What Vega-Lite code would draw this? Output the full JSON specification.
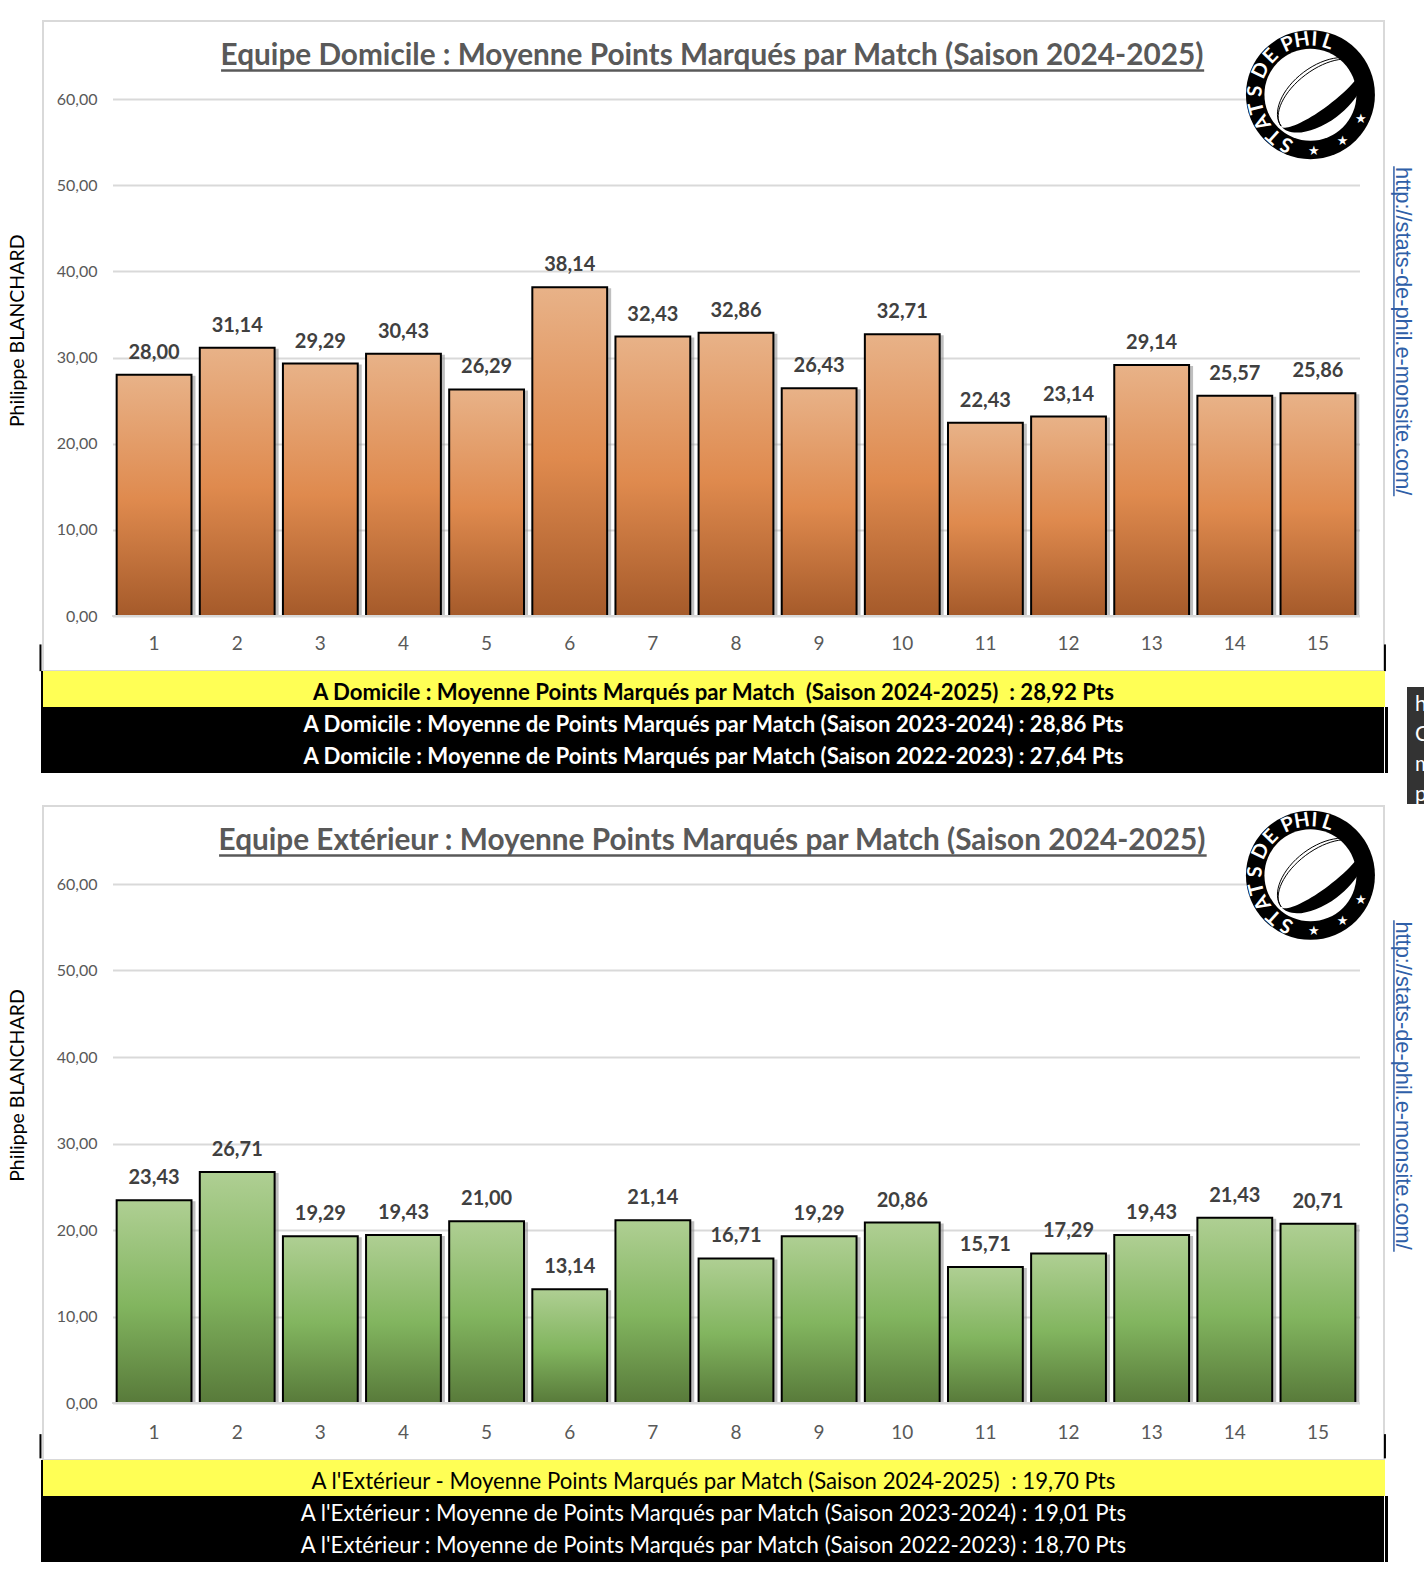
{"$schema":"https://vega.github.io/schema/vega-lite/v6.json","background":"#ffffff","padding":{"left":7,"top":20,"right":0,"bottom":0},"config":{"locale":{"number":{"decimal":",","thousands":" ","grouping":[3],"currency":["","€"]}},"font":"Lato","concat":{"spacing":0}},"datasets":{"domicile":[{"journee":1,"points":28.00},{"journee":2,"points":31.14},{"journee":3,"points":29.29},{"journee":4,"points":30.43},{"journee":5,"points":26.29},{"journee":6,"points":38.14},{"journee":7,"points":32.43},{"journee":8,"points":32.86},{"journee":9,"points":26.43},{"journee":10,"points":32.71},{"journee":11,"points":22.43},{"journee":12,"points":23.14},{"journee":13,"points":29.14},{"journee":14,"points":25.57},{"journee":15,"points":25.86}],"exterieur":[{"journee":1,"points":23.43},{"journee":2,"points":26.71},{"journee":3,"points":19.29},{"journee":4,"points":19.43},{"journee":5,"points":21.00},{"journee":6,"points":13.14},{"journee":7,"points":21.14},{"journee":8,"points":16.71},{"journee":9,"points":19.29},{"journee":10,"points":20.86},{"journee":11,"points":15.71},{"journee":12,"points":17.29},{"journee":13,"points":19.43},{"journee":14,"points":21.43},{"journee":15,"points":20.71}],"une":[{"n":1}],"lettres":[{"t":"S","a":205.6},{"t":"T","a":221.5},{"t":"A","a":240},{"t":"T","a":256},{"t":"S","a":273.6},{"t":"D","a":296},{"t":"E","a":314},{"t":"P","a":336},{"t":"H","a":351},{"t":"I","a":4},{"t":"L","a":18}],"etoiles":[{"t":"★","a":176.5},{"t":"★","a":145},{"t":"★","a":116}]},"spacing":0,"vconcat":[{"spacing":0,"bounds":"flush","vconcat":[{"width":1341,"height":650,"view":{"stroke":"#d9d9d9","strokeWidth":2,"fill":"#ffffff"},"layer":[{"data":{"name":"domicile"},"mark":{"type":"bar","fill":"#8a8a8a","opacity":0.55,"xOffset":4,"yOffset":1},"encoding":{"x":{"field":"journee","type":"ordinal","scale":{"domain":[1,2,3,4,5,6,7,8,9,10,11,12,13,14,15],"range":[69.5,1316.5],"paddingInner":0.1,"paddingOuter":0.05},"axis":{"title":null,"labelAngle":0,"domain":false,"ticks":false,"grid":false,"offset":-28,"labelPadding":0,"labelBaseline":"middle","labelFontSize":19,"labelColor":"#595959","labelFont":"Lato"}},"y":{"field":"points","type":"quantitative","scale":{"domain":[0,60],"range":[595,78],"nice":false,"zero":false},"axis":{"title":null,"values":[0,10,20,30,40,50,60],"format":".2f","domain":false,"ticks":false,"grid":true,"gridColor":"#d9d9d9","gridWidth":2,"offset":-54,"labelPadding":0,"labelFontSize":16,"labelColor":"#595959","labelFont":"Lato"}}}},{"data":{"name":"domicile"},"mark":{"type":"bar","stroke":"#000000","strokeWidth":2,"fill":{"x1":0,"y1":0,"x2":0,"y2":1,"gradient":"linear","stops":[{"offset":0,"color":"#E8B288"},{"offset":0.52,"color":"#DF8A4E"},{"offset":1,"color":"#A55A2A"}]}},"encoding":{"x":{"field":"journee","type":"ordinal"},"y":{"field":"points","type":"quantitative"}}},{"data":{"name":"une"},"mark":{"type":"rule","color":"#d9d9d9","strokeWidth":2,"xOffset":-42,"x2Offset":42},"encoding":{"x":{"datum":1,"type":"ordinal"},"x2":{"datum":15},"y":{"datum":0,"type":"quantitative"}}},{"data":{"name":"domicile"},"mark":{"type":"text","baseline":"alphabetic","yOffset":-16,"fontSize":20,"fontWeight":"bold","color":"#404040"},"encoding":{"x":{"field":"journee","type":"ordinal"},"y":{"field":"points","type":"quantitative"},"text":{"field":"points","type":"quantitative","format":".2f"}}},{"data":{"name":"une"},"mark":{"type":"text","text":"Equipe Domicile : Moyenne Points Marqués par Match (Saison 2024-2025)","baseline":"alphabetic","align":"center","fontSize":29.75,"fontWeight":"bold","color":"#595959","xOffset":-24},"encoding":{"x":{"datum":8,"type":"ordinal"},"y":{"datum":63.95,"type":"quantitative"}}},{"data":{"name":"une"},"mark":{"type":"rule","color":"#595959","strokeWidth":2.5,"xOffset":67,"x2Offset":52.5},"encoding":{"x":{"datum":1,"type":"ordinal"},"x2":{"datum":13},"y":{"datum":63.3,"type":"quantitative"}}},{"data":{"name":"une"},"mark":{"type":"text","text":"Philippe BLANCHARD","angle":270,"baseline":"alphabetic","align":"center","fontSize":19.5,"color":"#000000","xOffset":-129.6},"encoding":{"x":{"datum":1,"type":"ordinal"},"y":{"datum":33.1,"type":"quantitative"}}},{"data":{"name":"une"},"mark":{"type":"text","text":"http://stats-de-phil.e-monsite.com/","angle":90,"baseline":"alphabetic","align":"center","font":"Liberation Sans","fontSize":21.8,"color":"#2F5FA8","xOffset":78},"encoding":{"x":{"datum":15,"type":"ordinal"},"y":{"datum":33.05,"type":"quantitative"}}},{"data":{"name":"une"},"mark":{"type":"rule","color":"#2F5FA8","strokeWidth":1.5,"xOffset":76},"encoding":{"x":{"datum":15,"type":"ordinal"},"y":{"datum":52.2,"type":"quantitative"},"y2":{"datum":13.9}}},{"data":{"name":"une"},"mark":{"type":"rule","color":"#000000","strokeWidth":2,"xOffset":-113.6},"encoding":{"x":{"datum":1,"type":"ordinal"},"y":{"datum":-3.3,"type":"quantitative"},"y2":{"datum":-6.4}}},{"data":{"name":"une"},"mark":{"type":"rule","color":"#000000","strokeWidth":2,"xOffset":67},"encoding":{"x":{"datum":15,"type":"ordinal"},"y":{"datum":-3.3,"type":"quantitative"},"y2":{"datum":-6.4}}},{"data":{"name":"une"},"mark":{"type":"point","shape":"circle","filled":true,"fill":"#000000","stroke":null,"opacity":1,"size":16641,"xOffset":-7.5},"encoding":{"x":{"datum":15,"type":"ordinal"},"y":{"datum":60.5,"type":"quantitative"}}},{"data":{"name":"une"},"mark":{"type":"point","shape":"circle","filled":true,"fill":"#ffffff","stroke":null,"opacity":1,"size":8464,"xOffset":-7.5},"encoding":{"x":{"datum":15,"type":"ordinal"},"y":{"datum":60.5,"type":"quantitative"}}},{"data":{"name":"une"},"mark":{"type":"point","shape":"M.794,-.448 A.78,.40 -37 0 1 -.454,.488 A.78,.18 -37 0 0 .794,-.448 Z","filled":true,"fill":"#000000","stroke":null,"opacity":1,"size":16641,"xOffset":-7.5},"encoding":{"x":{"datum":15,"type":"ordinal"},"y":{"datum":60.5,"type":"quantitative"}}},{"data":{"name":"une"},"mark":{"type":"point","shape":"M.794,-.448 A.78,.46 -37 0 0 -.454,.488 M.794,-.448 A.78,.41 -37 0 0 -.454,.488","filled":false,"stroke":"#000000","strokeWidth":1,"opacity":1,"size":16641,"xOffset":-7.5},"encoding":{"x":{"datum":15,"type":"ordinal"},"y":{"datum":60.5,"type":"quantitative"}}},{"data":{"name":"lettres"},"mark":{"type":"text","radius":55,"fontSize":20,"fontWeight":"bold","color":"#ffffff","baseline":"middle","align":"center","xOffset":-7.5},"encoding":{"x":{"datum":15,"type":"ordinal"},"y":{"datum":60.5,"type":"quantitative"},"theta":{"field":"a","type":"quantitative","scale":{"domain":[0,360],"range":[0,6.28319]}},"angle":{"field":"a","type":"quantitative","scale":{"domain":[0,360],"range":[0,360]}},"text":{"field":"t","type":"nominal"}}},{"data":{"name":"etoiles"},"mark":{"type":"text","radius":56,"fontSize":13,"font":"DejaVu Sans","color":"#ffffff","baseline":"middle","align":"center","xOffset":-7.5},"encoding":{"x":{"datum":15,"type":"ordinal"},"y":{"datum":60.5,"type":"quantitative"},"theta":{"field":"a","type":"quantitative","scale":{"domain":[0,360],"range":[0,6.28319]}},"text":{"field":"t","type":"nominal"}}}]},{"width":1341,"height":102,"view":{"fill":"#000000","stroke":null},"data":{"values":[{"rang":"a","texte":"A Domicile : Moyenne Points Marqués par Match \u00a0(Saison 2024-2025) \u00a0: 28,92 Pts"},{"rang":"b","texte":"A Domicile : Moyenne de Points Marqués par Match (Saison 2023-2024) : 28,86 Pts"},{"rang":"c","texte":"A Domicile : Moyenne de Points Marqués par Match (Saison 2022-2023) : 27,64 Pts"}]},"resolve":{"scale":{"y":"independent"}},"layer":[{"layer":[{"data":{"name":"une"},"mark":{"type":"rect","fill":"#FFFF55"},"encoding":{"x":{"datum":0,"type":"quantitative","scale":{"domain":[0,1341],"nice":false,"zero":false},"axis":null},"x2":{"datum":1342},"y":{"datum":0,"type":"quantitative","scale":{"domain":[0,102],"range":[0,102],"nice":false},"axis":null},"y2":{"datum":36}}},{"data":{"name":"une"},"mark":{"type":"rule","color":"#000000","strokeWidth":2},"encoding":{"x":{"datum":-1,"type":"quantitative"},"y":{"datum":0,"type":"quantitative"},"y2":{"datum":102}}},{"data":{"name":"une"},"mark":{"type":"rule","color":"#000000","strokeWidth":3},"encoding":{"x":{"datum":1343.5,"type":"quantitative"},"y":{"datum":36,"type":"quantitative"},"y2":{"datum":102}}},{"data":{"name":"une"},"mark":{"type":"rect","fill":"#333333"},"encoding":{"x":{"datum":1364,"type":"quantitative"},"x2":{"datum":1383},"y":{"datum":16,"type":"quantitative"},"y2":{"datum":133}}},{"data":{"name":"une"},"mark":{"type":"text","text":"h|C|m|p","lineBreak":"|","lineHeight":30,"align":"left","baseline":"top","fontSize":21,"color":"#ffffff"},"encoding":{"x":{"datum":1372,"type":"quantitative"},"y":{"datum":23,"type":"quantitative"}}}]},{"mark":{"type":"text","fontSize":22.2,"fontWeight":"bold"},"encoding":{"y":{"field":"rang","type":"ordinal","scale":{"domain":["a","b","c"],"range":[6,102],"paddingInner":0,"paddingOuter":0},"axis":null},"text":{"field":"texte","type":"nominal"},"color":{"condition":{"test":"datum.rang === 'a'","value":"#000000"},"value":"#ffffff"}}}]}]},{"spacing":0,"bounds":"flush","vconcat":[{"width":1341,"height":654,"view":{"stroke":"#d9d9d9","strokeWidth":2,"fill":"#ffffff"},"layer":[{"data":{"name":"exterieur"},"mark":{"type":"bar","fill":"#8a8a8a","opacity":0.55,"xOffset":4,"yOffset":1},"encoding":{"x":{"field":"journee","type":"ordinal","scale":{"domain":[1,2,3,4,5,6,7,8,9,10,11,12,13,14,15],"range":[69.5,1316.5],"paddingInner":0.1,"paddingOuter":0.05},"axis":{"title":null,"labelAngle":0,"domain":false,"ticks":false,"grid":false,"offset":-28,"labelPadding":0,"labelBaseline":"middle","labelFontSize":19,"labelColor":"#595959","labelFont":"Lato"}},"y":{"field":"points","type":"quantitative","scale":{"domain":[0,60],"range":[597,78],"nice":false,"zero":false},"axis":{"title":null,"values":[0,10,20,30,40,50,60],"format":".2f","domain":false,"ticks":false,"grid":true,"gridColor":"#d9d9d9","gridWidth":2,"offset":-54,"labelPadding":0,"labelFontSize":16,"labelColor":"#595959","labelFont":"Lato"}}}},{"data":{"name":"exterieur"},"mark":{"type":"bar","stroke":"#000000","strokeWidth":2,"fill":{"x1":0,"y1":0,"x2":0,"y2":1,"gradient":"linear","stops":[{"offset":0,"color":"#AFCF93"},{"offset":0.52,"color":"#82B55F"},{"offset":1,"color":"#587A3A"}]}},"encoding":{"x":{"field":"journee","type":"ordinal"},"y":{"field":"points","type":"quantitative"}}},{"data":{"name":"une"},"mark":{"type":"rule","color":"#d9d9d9","strokeWidth":2,"xOffset":-42,"x2Offset":42},"encoding":{"x":{"datum":1,"type":"ordinal"},"x2":{"datum":15},"y":{"datum":0,"type":"quantitative"}}},{"data":{"name":"exterieur"},"mark":{"type":"text","baseline":"alphabetic","yOffset":-16,"fontSize":20,"fontWeight":"bold","color":"#404040"},"encoding":{"x":{"field":"journee","type":"ordinal"},"y":{"field":"points","type":"quantitative"},"text":{"field":"points","type":"quantitative","format":".2f"}}},{"data":{"name":"une"},"mark":{"type":"text","text":"Equipe Extérieur : Moyenne Points Marqués par Match (Saison 2024-2025)","baseline":"alphabetic","align":"center","fontSize":29.75,"fontWeight":"bold","color":"#595959","xOffset":-24},"encoding":{"x":{"datum":8,"type":"ordinal"},"y":{"datum":63.95,"type":"quantitative"}}},{"data":{"name":"une"},"mark":{"type":"rule","color":"#595959","strokeWidth":2.5,"xOffset":65,"x2Offset":55},"encoding":{"x":{"datum":1,"type":"ordinal"},"x2":{"datum":13},"y":{"datum":63.3,"type":"quantitative"}}},{"data":{"name":"une"},"mark":{"type":"text","text":"Philippe BLANCHARD","angle":270,"baseline":"alphabetic","align":"center","fontSize":19.5,"color":"#000000","xOffset":-129.6},"encoding":{"x":{"datum":1,"type":"ordinal"},"y":{"datum":36.7,"type":"quantitative"}}},{"data":{"name":"une"},"mark":{"type":"text","text":"http://stats-de-phil.e-monsite.com/","angle":90,"baseline":"alphabetic","align":"center","font":"Liberation Sans","fontSize":21.8,"color":"#2F5FA8","xOffset":78},"encoding":{"x":{"datum":15,"type":"ordinal"},"y":{"datum":36.7,"type":"quantitative"}}},{"data":{"name":"une"},"mark":{"type":"rule","color":"#2F5FA8","strokeWidth":1.5,"xOffset":76},"encoding":{"x":{"datum":15,"type":"ordinal"},"y":{"datum":55.8,"type":"quantitative"},"y2":{"datum":17.5}}},{"data":{"name":"une"},"mark":{"type":"rule","color":"#000000","strokeWidth":2,"xOffset":-113.6},"encoding":{"x":{"datum":1,"type":"ordinal"},"y":{"datum":-3.6,"type":"quantitative"},"y2":{"datum":-6.4}}},{"data":{"name":"une"},"mark":{"type":"rule","color":"#000000","strokeWidth":2,"xOffset":67},"encoding":{"x":{"datum":15,"type":"ordinal"},"y":{"datum":-3.6,"type":"quantitative"},"y2":{"datum":-6.4}}},{"data":{"name":"une"},"mark":{"type":"point","shape":"circle","filled":true,"fill":"#000000","stroke":null,"opacity":1,"size":16641,"xOffset":-7.5},"encoding":{"x":{"datum":15,"type":"ordinal"},"y":{"datum":61.0,"type":"quantitative"}}},{"data":{"name":"une"},"mark":{"type":"point","shape":"circle","filled":true,"fill":"#ffffff","stroke":null,"opacity":1,"size":8464,"xOffset":-7.5},"encoding":{"x":{"datum":15,"type":"ordinal"},"y":{"datum":61.0,"type":"quantitative"}}},{"data":{"name":"une"},"mark":{"type":"point","shape":"M.794,-.448 A.78,.40 -37 0 1 -.454,.488 A.78,.18 -37 0 0 .794,-.448 Z","filled":true,"fill":"#000000","stroke":null,"opacity":1,"size":16641,"xOffset":-7.5},"encoding":{"x":{"datum":15,"type":"ordinal"},"y":{"datum":61.0,"type":"quantitative"}}},{"data":{"name":"une"},"mark":{"type":"point","shape":"M.794,-.448 A.78,.46 -37 0 0 -.454,.488 M.794,-.448 A.78,.41 -37 0 0 -.454,.488","filled":false,"stroke":"#000000","strokeWidth":1,"opacity":1,"size":16641,"xOffset":-7.5},"encoding":{"x":{"datum":15,"type":"ordinal"},"y":{"datum":61.0,"type":"quantitative"}}},{"data":{"name":"lettres"},"mark":{"type":"text","radius":55,"fontSize":20,"fontWeight":"bold","color":"#ffffff","baseline":"middle","align":"center","xOffset":-7.5},"encoding":{"x":{"datum":15,"type":"ordinal"},"y":{"datum":61.0,"type":"quantitative"},"theta":{"field":"a","type":"quantitative","scale":{"domain":[0,360],"range":[0,6.28319]}},"angle":{"field":"a","type":"quantitative","scale":{"domain":[0,360],"range":[0,360]}},"text":{"field":"t","type":"nominal"}}},{"data":{"name":"etoiles"},"mark":{"type":"text","radius":56,"fontSize":13,"font":"DejaVu Sans","color":"#ffffff","baseline":"middle","align":"center","xOffset":-7.5},"encoding":{"x":{"datum":15,"type":"ordinal"},"y":{"datum":61.0,"type":"quantitative"},"theta":{"field":"a","type":"quantitative","scale":{"domain":[0,360],"range":[0,6.28319]}},"text":{"field":"t","type":"nominal"}}}]},{"width":1341,"height":102,"view":{"fill":"#000000","stroke":null},"data":{"values":[{"rang":"a","texte":"A l'Extérieur - Moyenne Points Marqués par Match (Saison 2024-2025) \u00a0: 19,70 Pts"},{"rang":"b","texte":"A l'Extérieur : Moyenne de Points Marqués par Match (Saison 2023-2024) : 19,01 Pts"},{"rang":"c","texte":"A l'Extérieur : Moyenne de Points Marqués par Match (Saison 2022-2023) : 18,70 Pts"}]},"resolve":{"scale":{"y":"independent"}},"layer":[{"layer":[{"data":{"name":"une"},"mark":{"type":"rect","fill":"#FFFF55"},"encoding":{"x":{"datum":0,"type":"quantitative","scale":{"domain":[0,1341],"nice":false,"zero":false},"axis":null},"x2":{"datum":1342},"y":{"datum":0,"type":"quantitative","scale":{"domain":[0,102],"range":[0,102],"nice":false},"axis":null},"y2":{"datum":36}}},{"data":{"name":"une"},"mark":{"type":"rule","color":"#000000","strokeWidth":2},"encoding":{"x":{"datum":-1,"type":"quantitative"},"y":{"datum":0,"type":"quantitative"},"y2":{"datum":102}}},{"data":{"name":"une"},"mark":{"type":"rule","color":"#000000","strokeWidth":3},"encoding":{"x":{"datum":1343.5,"type":"quantitative"},"y":{"datum":36,"type":"quantitative"},"y2":{"datum":102}}}]},{"mark":{"type":"text","fontSize":22.2,"fontWeight":"normal"},"encoding":{"y":{"field":"rang","type":"ordinal","scale":{"domain":["a","b","c"],"range":[6,102],"paddingInner":0,"paddingOuter":0},"axis":null},"text":{"field":"texte","type":"nominal"},"fontWeight":{"condition":{"test":"datum.rang === 'a'","value":"bold"},"value":"normal"},"color":{"condition":{"test":"datum.rang === 'a'","value":"#000000"},"value":"#ffffff"}}}]}]}]}
